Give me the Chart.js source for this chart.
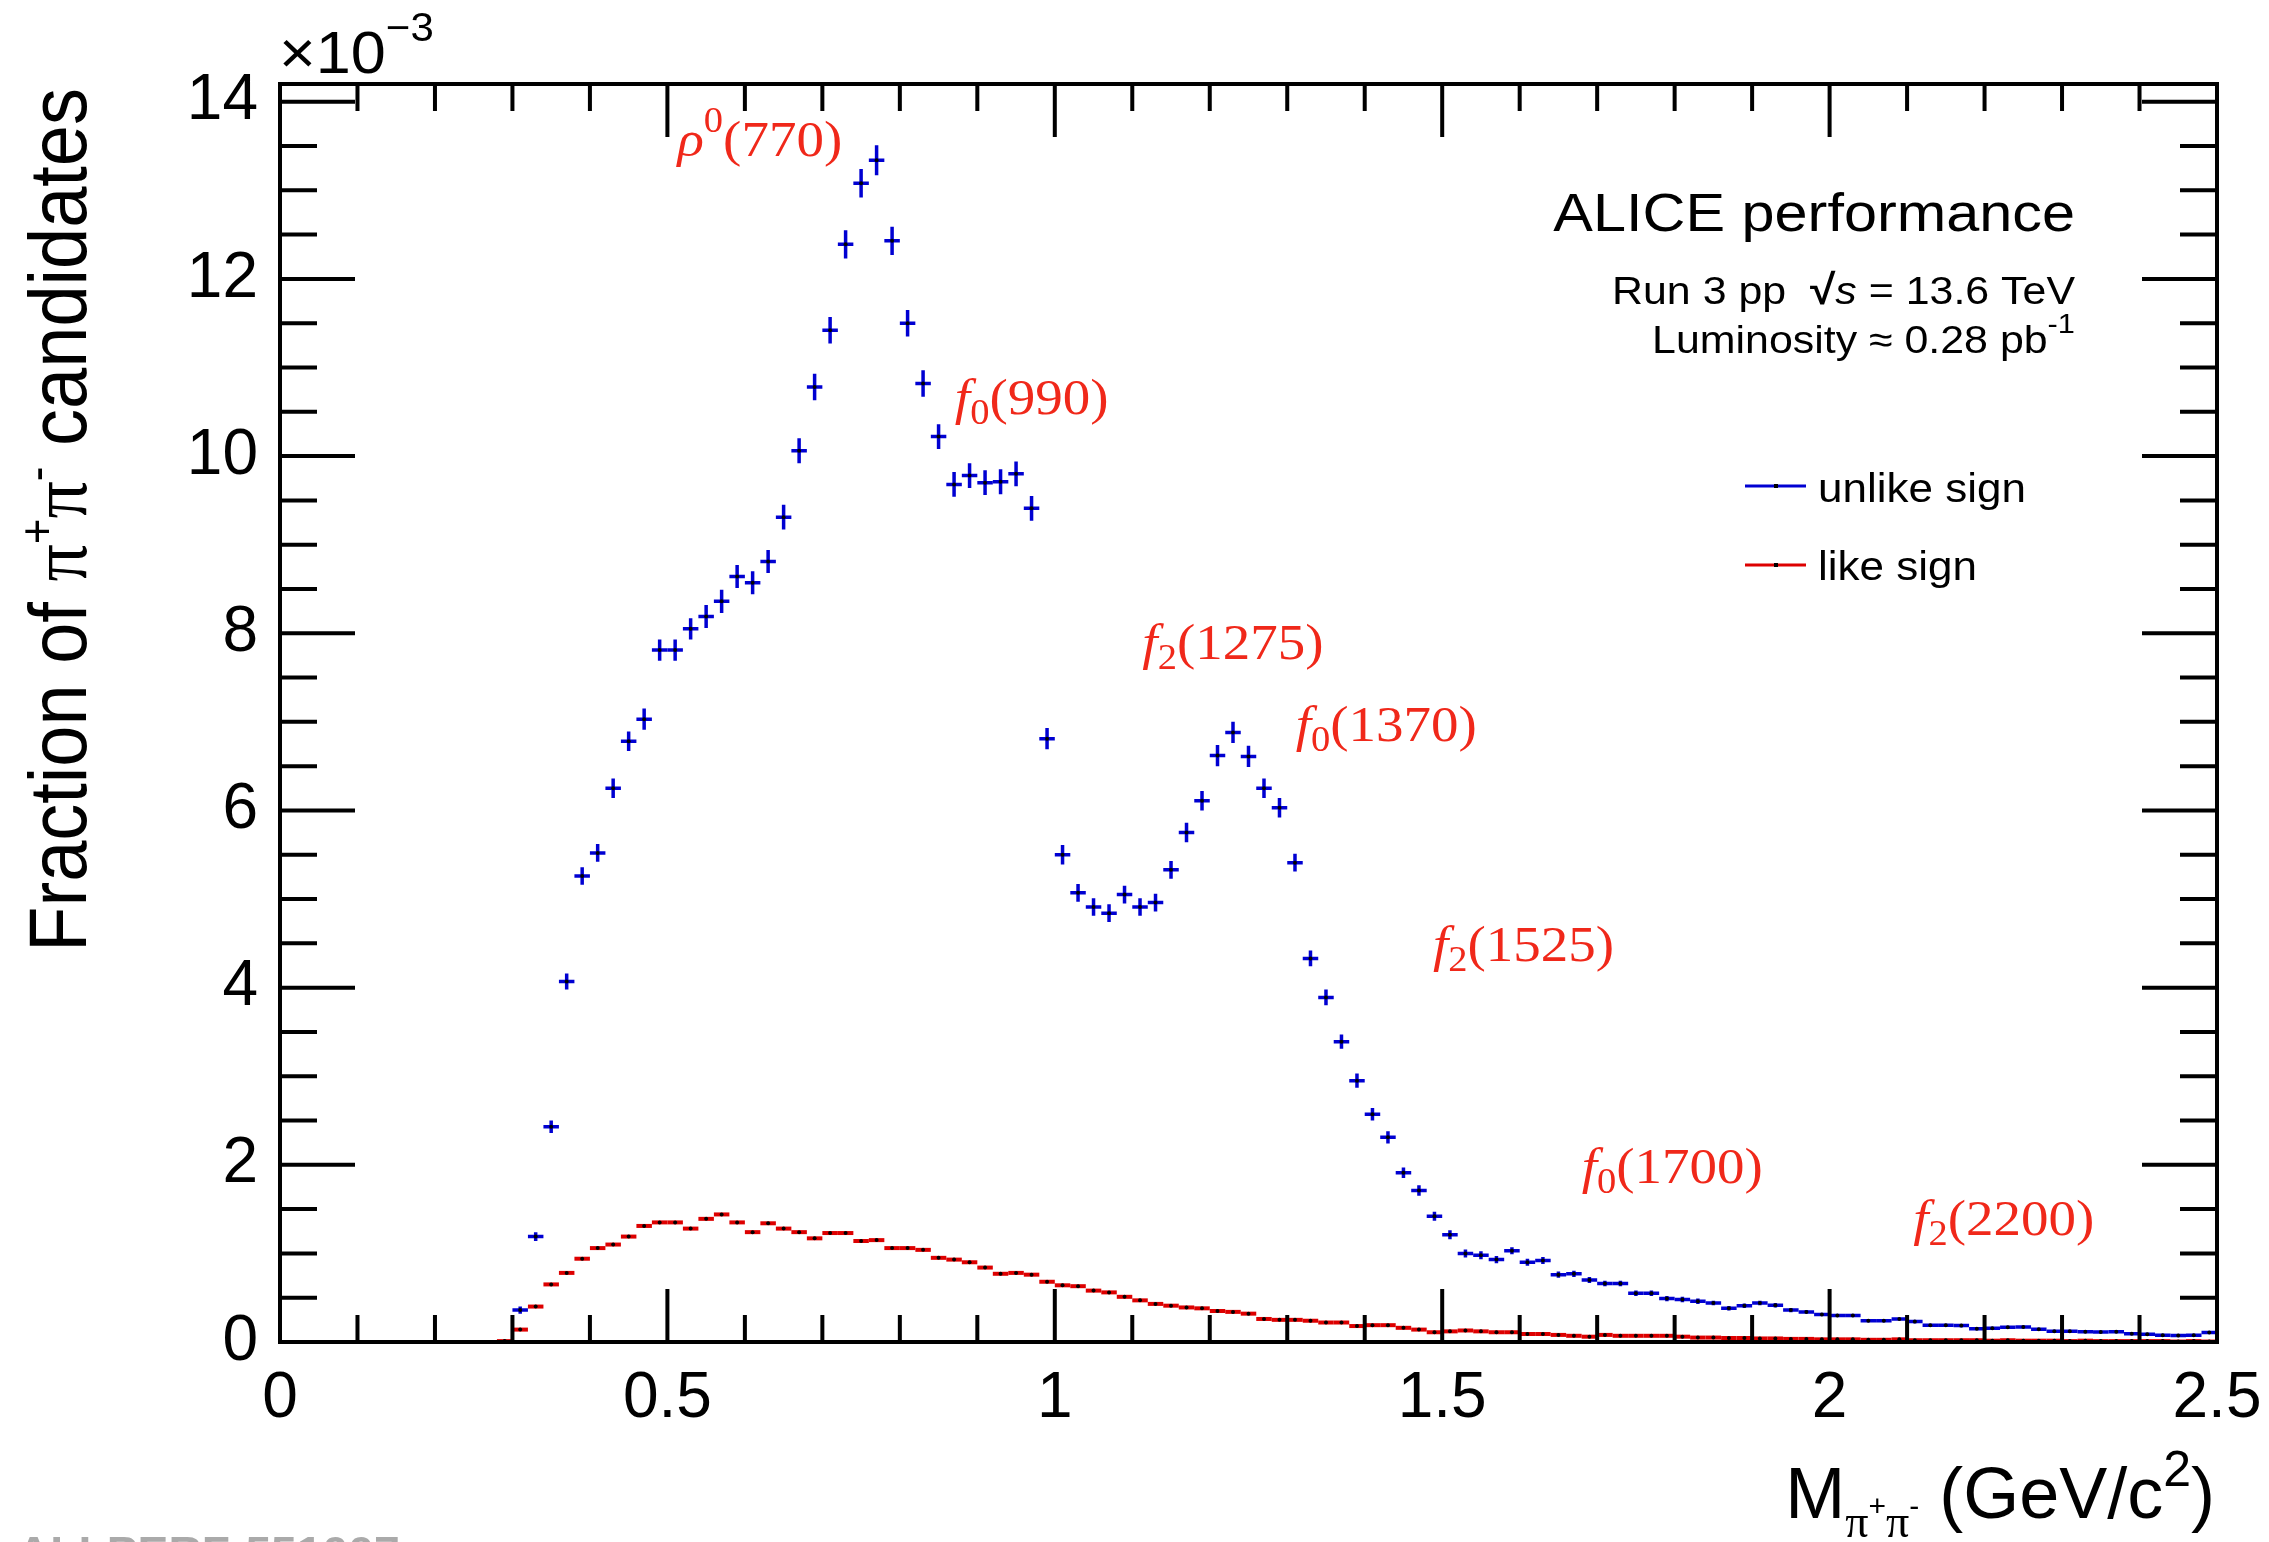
<!DOCTYPE html>
<html>
<head>
<meta charset="utf-8">
<script src="https://cdn.jsdelivr.net/npm/chart.js@4.4.1/dist/chart.umd.min.js"></script>
<style>
html, body { margin: 0; padding: 0; background: #fff; }
#wrap { width: 2269px; height: 1542px; }
</style>
</head>
<body>
<div id="wrap"><canvas id="c" width="2269" height="1542"></canvas></div>
<script>
// bin centres (GeV/c^2), bin width 0.02
const unlikeMass = [
    0.31, 0.33, 0.35, 0.37, 0.39, 0.41, 0.43, 0.45, 0.47, 0.49,
    0.51, 0.53, 0.55, 0.57, 0.59, 0.61, 0.63, 0.65, 0.67, 0.69,
    0.71, 0.73, 0.75, 0.77, 0.79, 0.81, 0.83, 0.85, 0.87, 0.89,
    0.91, 0.93, 0.95, 0.97, 0.99, 1.01, 1.03, 1.05, 1.07, 1.09,
    1.11, 1.13, 1.15, 1.17, 1.19, 1.21, 1.23, 1.25, 1.27, 1.29,
    1.31, 1.33, 1.35, 1.37, 1.39, 1.41, 1.43, 1.45, 1.47, 1.49,
    1.51, 1.53, 1.55, 1.57, 1.59, 1.61, 1.63, 1.65, 1.67, 1.69,
    1.71, 1.73, 1.75, 1.77, 1.79, 1.81, 1.83, 1.85, 1.87, 1.89,
    1.91, 1.93, 1.95, 1.97, 1.99, 2.01, 2.03, 2.05, 2.07, 2.09,
    2.11, 2.13, 2.15, 2.17, 2.19, 2.21, 2.23, 2.25, 2.27, 2.29,
    2.31, 2.33, 2.35, 2.37, 2.39, 2.41, 2.43, 2.45, 2.47, 2.49
];
// fraction x 10^-3
const unlikeFrac = [
    0.36, 1.19, 2.43, 4.07, 5.26, 5.52, 6.25, 6.78, 7.03, 7.81,
    7.81, 8.05, 8.19, 8.36, 8.64, 8.57, 8.81, 9.31, 10.06, 10.78,
    11.42, 12.39, 13.08, 13.34, 12.43, 11.50, 10.82, 10.22, 9.68, 9.78,
    9.70, 9.71, 9.80, 9.41, 6.81, 5.50, 5.07, 4.91, 4.84, 5.05,
    4.91, 4.96, 5.33, 5.75, 6.11, 6.62, 6.88, 6.61, 6.25, 6.03,
    5.41, 4.33, 3.89, 3.39, 2.95, 2.57, 2.31, 1.91, 1.71, 1.42,
    1.21, 1.00, 0.98, 0.93, 1.03, 0.90, 0.92, 0.76, 0.77, 0.70,
    0.66, 0.66, 0.55, 0.55, 0.49, 0.48, 0.46, 0.44, 0.38, 0.41,
    0.44, 0.415, 0.36, 0.34, 0.31, 0.30, 0.30, 0.24, 0.24, 0.26,
    0.23, 0.19, 0.19, 0.185, 0.15, 0.155, 0.166, 0.17, 0.143, 0.12,
    0.12, 0.117, 0.113, 0.117, 0.094, 0.087, 0.075, 0.072, 0.075, 0.106
];
const unlikeErr = [
    0.04, 0.05, 0.07, 0.09, 0.10, 0.10, 0.11, 0.11, 0.12, 0.12,
    0.12, 0.12, 0.13, 0.13, 0.13, 0.13, 0.13, 0.14, 0.14, 0.15,
    0.15, 0.16, 0.16, 0.17, 0.16, 0.15, 0.15, 0.14, 0.14, 0.14,
    0.14, 0.14, 0.14, 0.14, 0.12, 0.11, 0.10, 0.10, 0.10, 0.10,
    0.10, 0.10, 0.10, 0.11, 0.11, 0.12, 0.12, 0.12, 0.11, 0.11,
    0.10, 0.09, 0.09, 0.08, 0.08, 0.07, 0.07, 0.06, 0.06, 0.05,
    0.05, 0.045, 0.045, 0.04, 0.04, 0.04, 0.04, 0.035, 0.035, 0.035,
    0.03, 0.03, 0.03, 0.03, 0.03, 0.03, 0.03, 0.025, 0.025, 0.025,
    0.025, 0.025, 0.025, 0.02, 0.02, 0.02, 0.02, 0.02, 0.02, 0.02,
    0.02, 0.02, 0.02, 0.02, 0.015, 0.015, 0.015, 0.015, 0.015, 0.015,
    0.015, 0.015, 0.015, 0.015, 0.015, 0.015, 0.015, 0.015, 0.015, 0.015
];

const likeMass = [
    0.29, 0.31, 0.33, 0.35, 0.37, 0.39, 0.41, 0.43, 0.45, 0.47, 0.49,
    0.51, 0.53, 0.55, 0.57, 0.59, 0.61, 0.63, 0.65, 0.67, 0.69,
    0.71, 0.73, 0.75, 0.77, 0.79, 0.81, 0.83, 0.85, 0.87, 0.89,
    0.91, 0.93, 0.95, 0.97, 0.99, 1.01, 1.03, 1.05, 1.07, 1.09,
    1.11, 1.13, 1.15, 1.17, 1.19, 1.21, 1.23, 1.25, 1.27, 1.29,
    1.31, 1.33, 1.35, 1.37, 1.39, 1.41, 1.43, 1.45, 1.47, 1.49,
    1.51, 1.53, 1.55, 1.57, 1.59, 1.61, 1.63, 1.65, 1.67, 1.69,
    1.71, 1.73, 1.75, 1.77, 1.79, 1.81, 1.83, 1.85, 1.87, 1.89,
    1.91, 1.93, 1.95, 1.97, 1.99, 2.01, 2.03, 2.05, 2.07, 2.09,
    2.11, 2.13, 2.15, 2.17, 2.19, 2.21, 2.23, 2.25, 2.27, 2.29,
    2.31, 2.33, 2.35, 2.37, 2.39, 2.41, 2.43, 2.45, 2.47, 2.49
];
const likeFrac = [
    0.01, 0.14, 0.40, 0.65, 0.78, 0.94, 1.06, 1.10, 1.19, 1.31, 1.35,
    1.35, 1.28, 1.39, 1.44, 1.35, 1.24, 1.34, 1.28, 1.24, 1.17,
    1.23, 1.23, 1.14, 1.15, 1.06, 1.06, 1.04, 0.95, 0.93, 0.90,
    0.84, 0.77, 0.78, 0.76, 0.68, 0.64, 0.63, 0.58, 0.56, 0.51,
    0.47, 0.43, 0.41, 0.39, 0.38, 0.35, 0.34, 0.32, 0.26, 0.25,
    0.25, 0.24, 0.22, 0.22, 0.18, 0.19, 0.19, 0.16, 0.14, 0.11,
    0.12, 0.13, 0.12, 0.11, 0.11, 0.09, 0.09, 0.08, 0.07, 0.06,
    0.08, 0.07, 0.07, 0.07, 0.07, 0.06, 0.05, 0.05, 0.045, 0.045,
    0.04, 0.04, 0.035, 0.035, 0.03, 0.03, 0.03, 0.025, 0.025, 0.03,
    0.02, 0.02, 0.02, 0.02, 0.02, 0.015, 0.02, 0.015, 0.015, 0.015,
    0.01, 0.015, 0.01, 0.01, 0.01, 0.01, 0.01, 0.005, 0.01, 0.005
];

const binHalfWidth = 0.01;

// resonance labels, anchored in data coordinates
const resonances = [
    { sym: 'ρ', idx: '0', sup: true,  mass: '(770)',  x: 0.513, y: 13.39 },
    { sym: 'f', idx: '0', sup: false, mass: '(990)',  x: 0.871, y: 10.48 },
    { sym: 'f', idx: '2', sup: false, mass: '(1275)', x: 1.113, y: 7.71 },
    { sym: 'f', idx: '0', sup: false, mass: '(1370)', x: 1.311, y: 6.78 },
    { sym: 'f', idx: '2', sup: false, mass: '(1525)', x: 1.488, y: 4.30 },
    { sym: 'f', idx: '0', sup: false, mass: '(1700)', x: 1.680, y: 1.80 },
    { sym: 'f', idx: '2', sup: false, mass: '(2200)', x: 2.108, y: 1.21 }
];

const BLUE = '#0000d2';
const RED = '#dd0000';
const LABEL_RED = '#f0281a';
const SANS = '"Liberation Sans", Arial, sans-serif';
const SERIF = '"Liberation Serif", "Times New Roman", serif';
const STRETCH = 1.1;

function drawRich(ctx, x, y, parts, align, stretch) {
    const k = stretch || STRETCH;
    let w = 0;
    parts.forEach(p => { ctx.font = p.font; p.w = ctx.measureText(p.t).width; w += p.w; });
    ctx.save();
    ctx.translate(x, y);
    ctx.scale(k, 1);
    let cx = align === 'right' ? -w : 0;
    parts.forEach(p => {
        ctx.font = p.font;
        ctx.fillText(p.t, cx, p.dy || 0);
        cx += p.w;
    });
    ctx.restore();
}

const errorBars = {
    id: 'errorBars',
    beforeDatasetsDraw(chart) {
        const ctx = chart.ctx;
        const xs = chart.scales.x, ys = chart.scales.y;
        const a = chart.chartArea;
        ctx.save();
        ctx.beginPath();
        ctx.rect(a.left, a.top, a.right - a.left, a.bottom - a.top);
        ctx.clip();
        ctx.lineCap = 'butt';
        // like sign: horizontal bin bars
        ctx.strokeStyle = RED;
        ctx.lineWidth = 4;
        likeMass.forEach((m, i) => {
            const py = ys.getPixelForValue(likeFrac[i]);
            ctx.beginPath();
            ctx.moveTo(xs.getPixelForValue(m - binHalfWidth), py);
            ctx.lineTo(xs.getPixelForValue(m + binHalfWidth), py);
            ctx.stroke();
        });
        // unlike sign: bin bars + vertical errors
        ctx.strokeStyle = BLUE;
        ctx.lineWidth = 3.5;
        unlikeMass.forEach((m, i) => {
            const px = xs.getPixelForValue(m);
            const py = ys.getPixelForValue(unlikeFrac[i]);
            ctx.beginPath();
            ctx.moveTo(xs.getPixelForValue(m - binHalfWidth), py);
            ctx.lineTo(xs.getPixelForValue(m + binHalfWidth), py);
            ctx.moveTo(px, ys.getPixelForValue(unlikeFrac[i] - unlikeErr[i]));
            ctx.lineTo(px, ys.getPixelForValue(unlikeFrac[i] + unlikeErr[i]));
            ctx.stroke();
        });
        ctx.restore();
    }
};

const frameAndText = {
    id: 'frameAndText',
    afterDraw(chart) {
        const ctx = chart.ctx;
        const xs = chart.scales.x, ys = chart.scales.y;
        const a = chart.chartArea;
        ctx.save();
        ctx.strokeStyle = '#000';
        ctx.lineWidth = 4;
        ctx.lineCap = 'butt';

        // inward ticks on all four sides
        ctx.beginPath();
        for (let i = 0; i <= 28; i++) {
            const py = ys.getPixelForValue(i * 0.5);
            const len = (i % 4 === 0) ? 75 : 37;
            ctx.moveTo(a.left, py); ctx.lineTo(a.left + len, py);
            ctx.moveTo(a.right, py); ctx.lineTo(a.right - len, py);
        }
        for (let i = 0; i <= 25; i++) {
            const px = xs.getPixelForValue(i * 0.1);
            const len = (i % 5 === 0) ? 53 : 27;
            ctx.moveTo(px, a.bottom); ctx.lineTo(px, a.bottom - len);
            ctx.moveTo(px, a.top); ctx.lineTo(px, a.top + len);
        }
        ctx.stroke();
        ctx.strokeRect(a.left, a.top, a.right - a.left, a.bottom - a.top);

        ctx.fillStyle = '#000';
        ctx.textBaseline = 'alphabetic';

        // exponent of the y axis
        drawRich(ctx, a.left - 1, 73, [
            { t: '×10', font: '60px ' + SANS },
            { t: '−3', font: '40px ' + SANS, dy: -32 }
        ], 'left', 1.05);

        // y axis title (rotated)
        ctx.save();
        ctx.translate(86, 88);
        ctx.rotate(-Math.PI / 2);
        ctx.scale(1, STRETCH);
        const yParts = [
            { t: 'Fraction of ', font: '74px ' + SANS },
            { t: 'π', font: '74px ' + SERIF },
            { t: '+', font: '44px ' + SANS, dy: -30 },
            { t: 'π', font: '74px ' + SERIF },
            { t: '-', font: '44px ' + SANS, dy: -30 },
            { t: ' candidates', font: '74px ' + SANS }
        ];
        let yw = 0;
        yParts.forEach(p => { ctx.font = p.font; p.w = ctx.measureText(p.t).width; yw += p.w; });
        let cx = -yw;
        yParts.forEach(p => { ctx.font = p.font; ctx.fillText(p.t, cx, p.dy || 0); cx += p.w; });
        ctx.restore();

        // x axis title
        drawRich(ctx, a.right - 2, 1518, [
            { t: 'M', font: '72px ' + SANS },
            { t: 'π', font: '46px ' + SERIF, dy: 19 },
            { t: '+', font: '30px ' + SANS, dy: -2 },
            { t: 'π', font: '46px ' + SERIF, dy: 19 },
            { t: '-', font: '30px ' + SANS, dy: -2 },
            { t: ' (GeV/c', font: '72px ' + SANS },
            { t: '2', font: '50px ' + SANS, dy: -32 },
            { t: ')', font: '72px ' + SANS }
        ], 'right', 1.0);

        // header
        drawRich(ctx, 2075, 231, [{ t: 'ALICE performance', font: '54px ' + SANS }], 'right');
        drawRich(ctx, 2075, 304, [
            { t: 'Run 3 pp  ', font: '39px ' + SANS },
            { t: '√', font: 'bold 42px ' + SANS },
            { t: 's', font: 'italic 39px ' + SANS },
            { t: ' = 13.6 TeV', font: '39px ' + SANS }
        ], 'right');
        drawRich(ctx, 2075, 353, [
            { t: 'Luminosity ≈ 0.28 pb', font: '39px ' + SANS },
            { t: '-1', font: '28px ' + SANS, dy: -20 }
        ], 'right');

        // legend
        [[BLUE, 'unlike sign', 486, 502], [RED, 'like sign', 565, 580]].forEach(([col, txt, ly, ty]) => {
            ctx.strokeStyle = col;
            ctx.lineWidth = 3;
            ctx.beginPath();
            ctx.moveTo(1745, ly); ctx.lineTo(1806, ly);
            ctx.stroke();
            ctx.fillStyle = '#000';
            ctx.fillRect(1774, ly - 2, 4, 4);
            drawRich(ctx, 1818, ty, [{ t: txt, font: '40px ' + SANS }]);
        });

        // resonance labels
        ctx.fillStyle = LABEL_RED;
        resonances.forEach(r => {
            const px = xs.getPixelForValue(r.x);
            const py = ys.getPixelForValue(r.y);
            drawRich(ctx, px, py, [
                { t: r.sym, font: 'italic 50px ' + SERIF },
                { t: r.idx, font: '35px ' + SERIF, dy: r.sup ? -24 : 10 },
                { t: r.mass, font: '50px ' + SERIF }
            ]);
        });

        // figure id, cut at the bottom edge
        ctx.fillStyle = '#aaaaaa';
        drawRich(ctx, 17, 1566, [{ t: 'ALI-PERF-551007', font: 'bold 42px ' + SANS }]);
        ctx.restore();
    }
};

const tickFont = { family: SANS, size: 64 };

new Chart(document.getElementById('c'), {
    type: 'scatter',
    data: {
        datasets: [
            {
                label: 'unlike sign',
                data: unlikeMass.map((m, i) => ({ x: m, y: unlikeFrac[i] })),
                pointRadius: 2,
                pointBorderWidth: 0,
                pointBackgroundColor: '#000',
                showLine: false
            },
            {
                label: 'like sign',
                data: likeMass.map((m, i) => ({ x: m, y: likeFrac[i] })),
                pointRadius: 2,
                pointBorderWidth: 0,
                pointBackgroundColor: '#000',
                showLine: false
            }
        ]
    },
    options: {
        responsive: false,
        animation: false,
        devicePixelRatio: 1,
        layout: { padding: { left: 0, right: 52, top: 84, bottom: 0 } },
        plugins: {
            legend: { display: false },
            tooltip: { enabled: false }
        },
        scales: {
            x: {
                type: 'linear',
                min: 0,
                max: 2.5,
                grid: { display: false, drawTicks: false },
                border: { display: false },
                ticks: {
                    stepSize: 0.5,
                    includeBounds: false,
                    autoSkip: false,
                    maxRotation: 0,
                    padding: 19,
                    color: '#000',
                    font: tickFont,
                    callback: v => String(+v.toFixed(1))
                },
                afterFit(s) { s.height = 200; s.paddingLeft = 0; s.paddingRight = 0; }
            },
            y: {
                min: 0,
                max: 14.2,
                grid: { display: false, drawTicks: false },
                border: { display: false },
                ticks: {
                    stepSize: 2,
                    includeBounds: false,
                    padding: 22,
                    color: '#000',
                    font: tickFont
                },
                afterFit(s) { s.width = 280; s.paddingTop = 0; s.paddingBottom = 0; }
            }
        }
    },
    plugins: [errorBars, frameAndText]
});
</script>
</body>
</html>
